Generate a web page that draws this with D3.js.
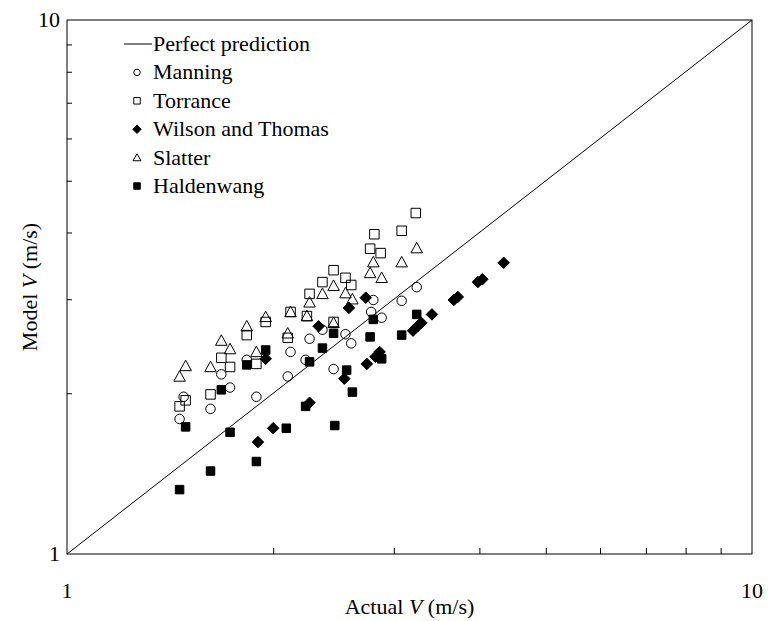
<!DOCTYPE html>
<html>
<head>
<meta charset="utf-8">
<script src="https://cdn.jsdelivr.net/npm/d3@7"></script>
<style>
  html, body { margin: 0; padding: 0; background: #fff; }
  svg { display: block; }
  text { font-family: "Liberation Serif", "Times New Roman", serif; fill: #000; }
</style>
</head>
<body>
<svg id="chart" width="769" height="621"></svg>
<script>
// Actual vs. model velocity (m/s) for each model
const manningActual = [1.46, 1.48, 1.62, 1.68, 1.73, 1.83, 1.89, 2.10, 2.12, 2.23, 2.26, 2.36, 2.45, 2.55, 2.60, 2.80, 2.78, 2.88, 3.08, 3.24];
const manningModel  = [1.79, 1.97, 1.87, 2.17, 2.05, 2.31, 1.97, 2.15, 2.39, 2.31, 2.53, 2.63, 2.22, 2.58, 2.48, 2.99, 2.84, 2.77, 2.98, 3.16];

const torranceActual = [1.46, 1.49, 1.62, 1.68, 1.73, 1.83, 1.89, 1.95, 2.10, 2.12, 2.24, 2.26, 2.36, 2.45, 2.55, 2.60, 2.45, 2.77, 2.81, 2.87, 3.08, 3.23];
const torranceModel  = [1.89, 1.94, 1.99, 2.33, 2.24, 2.57, 2.27, 2.72, 2.54, 2.84, 2.79, 3.07, 3.23, 3.40, 3.29, 3.19, 2.72, 3.73, 3.97, 3.66, 4.03, 4.35];

const wilsonActual = [1.90, 2.00, 1.95, 2.26, 2.33, 2.54, 2.58, 2.73, 2.74, 2.82, 2.86, 3.20, 3.25, 3.29, 3.41, 3.67, 3.72, 3.98, 4.04, 4.34];
const wilsonModel  = [1.62, 1.72, 2.32, 1.92, 2.67, 2.13, 2.89, 3.02, 2.27, 2.34, 2.39, 2.62, 2.67, 2.71, 2.81, 2.99, 3.03, 3.23, 3.27, 3.51];

const slatterActual = [1.46, 1.49, 1.62, 1.68, 1.73, 1.83, 1.89, 1.95, 2.10, 2.12, 2.24, 2.26, 2.36, 2.45, 2.45, 2.55, 2.61, 2.77, 2.80, 2.88, 3.08, 3.24];
const slatterModel  = [2.15, 2.25, 2.24, 2.51, 2.42, 2.67, 2.39, 2.78, 2.59, 2.84, 2.79, 2.96, 3.07, 3.18, 2.71, 3.08, 3.00, 3.36, 3.52, 3.29, 3.52, 3.74];

const haldenActual = [1.46, 1.49, 1.62, 1.68, 1.73, 1.83, 1.89, 1.95, 2.09, 2.23, 2.26, 2.36, 2.45, 2.46, 2.56, 2.61, 2.77, 2.80, 2.88, 3.08, 3.24];
const haldenModel  = [1.32, 1.73, 1.43, 2.03, 1.69, 2.26, 1.49, 2.41, 1.72, 1.89, 2.29, 2.43, 2.59, 1.74, 2.21, 2.01, 2.55, 2.75, 2.32, 2.57, 2.81];

const axisDomain = [1, 10];
const tickLabels = [1, 10];
const minorTicks = [2, 3, 4, 5, 6, 7, 8, 9];

const seriesNames = ["Manning", "Torrance", "Wilson and Thomas", "Slatter", "Haldenwang"];

const FONT = "'Liberation Serif', 'Times New Roman', serif";

const zip = (a, b) => a.map((v, i) => [v, b[i]]);
const series = [
  { name: seriesNames[0], shape: "circle",   filled: false, pts: zip(manningActual, manningModel) },
  { name: seriesNames[1], shape: "square",   filled: false, pts: zip(torranceActual, torranceModel) },
  { name: seriesNames[2], shape: "diamond",  filled: true,  pts: zip(wilsonActual, wilsonModel) },
  { name: seriesNames[3], shape: "triangle", filled: false, pts: zip(slatterActual, slatterModel) },
  { name: seriesNames[4], shape: "square",   filled: true,  pts: zip(haldenActual, haldenModel) }
];

const svg = d3.select("#chart");
const plotLeft = 67, plotRight = 752, plotTop = 20, plotBottom = 554;

const x = d3.scaleLog().domain(axisDomain).range([plotLeft, plotRight]);
const y = d3.scaleLog().domain(axisDomain).range([plotBottom, plotTop]);

// Frame
svg.append("rect")
  .attr("x", plotLeft).attr("y", plotTop)
  .attr("width", plotRight - plotLeft).attr("height", plotBottom - plotTop)
  .attr("fill", "none").attr("stroke", "#000").attr("stroke-width", 1);

// Inward minor ticks on the bottom and left axes
const xAxis = d3.axisBottom(x).tickValues(minorTicks).tickSize(-6).tickFormat("");
const yAxis = d3.axisLeft(y).tickValues(minorTicks).tickSize(-5).tickFormat("");
svg.append("g").attr("transform", `translate(0,${plotBottom})`).call(xAxis)
  .call(g => g.select(".domain").remove())
  .call(g => g.selectAll("line").attr("stroke", "#000"));
svg.append("g").attr("transform", `translate(${plotLeft},0)`).call(yAxis)
  .call(g => g.select(".domain").remove())
  .call(g => g.selectAll("line").attr("stroke", "#000"));

// Tick labels
svg.append("g").selectAll("text").data(tickLabels).join("text")
  .attr("x", d => x(d)).attr("y", plotBottom + 44)
  .attr("font-family", FONT)
  .attr("text-anchor", "middle").attr("font-size", 22).text(d => d);
svg.append("g").selectAll("text").data(tickLabels).join("text")
  .attr("x", plotLeft - 7).attr("y", d => y(d) + 7)
  .attr("font-family", FONT)
  .attr("text-anchor", "end").attr("font-size", 22).text(d => d);

// Axis titles
const xt = svg.append("text").attr("x", (plotLeft + plotRight) / 2).attr("y", 614)
  .attr("font-family", FONT)
  .attr("text-anchor", "middle").attr("font-size", 22);
xt.append("tspan").text("Actual ");
xt.append("tspan").attr("font-style", "italic").text("V");
xt.append("tspan").text(" (m/s)");

const yt = svg.append("text")
  .attr("transform", `translate(37,${(plotTop + plotBottom) / 2}) rotate(-90)`)
  .attr("font-family", FONT)
  .attr("text-anchor", "middle").attr("font-size", 22);
yt.append("tspan").text("Model ");
yt.append("tspan").attr("font-style", "italic").text("V");
yt.append("tspan").text(" (m/s)");

// Perfect prediction line
svg.append("line")
  .attr("x1", x(axisDomain[0])).attr("y1", y(axisDomain[0]))
  .attr("x2", x(axisDomain[1])).attr("y2", y(axisDomain[1]))
  .attr("stroke", "#000").attr("stroke-width", 1);

// Marker shapes
function markerPath(shape, s) {
  if (shape === "circle") {
    return d3.symbol(d3.symbolCircle, Math.PI * s * s / 4)();
  }
  if (shape === "square") {
    const h = s / 2;
    return `M${-h},${-h}H${h}V${h}H${-h}Z`;
  }
  if (shape === "diamond") {
    const h = s / 2 + 1;
    return `M0,${-h}L${h},0L0,${h}L${-h},0Z`;
  }
  if (shape === "triangle") {
    const w = s / 2 + 0.5, hTop = s * 0.55, hBot = s * 0.45;
    return `M0,${-hTop}L${w},${hBot}L${-w},${hBot}Z`;
  }
}

function drawMarkers(g, shape, filled, size) {
  g.attr("d", markerPath(shape, size))
    .attr("fill", filled ? "#000" : "#fff")
    .attr("fill-opacity", filled ? 1 : 0)
    .attr("stroke", "#000")
    .attr("stroke-width", 1);
}

const markerSize = { circle: 9.5, square: 9.5, diamond: 9.5, triangle: 10.5 };

series.forEach(s => {
  svg.append("g").selectAll("path").data(s.pts).join("path")
    .attr("transform", d => `translate(${x(d[0])},${y(d[1])})`)
    .call(drawMarkers, s.shape, s.filled, s.filled && s.shape === "square" ? 8.5 : markerSize[s.shape]);
});

// Legend
const legend = svg.append("g");
const lx = 137, ltx = 153, ly0 = 44, ldy = 28.4;
legend.append("line")
  .attr("x1", 124).attr("x2", 152).attr("y1", ly0).attr("y2", ly0)
  .attr("stroke", "#000").attr("stroke-width", 1);
legend.append("text").attr("x", ltx).attr("y", ly0 + 7)
  .attr("font-family", FONT).attr("font-size", 22).text("Perfect prediction");
series.forEach((s, i) => {
  const yy = ly0 + ldy * (i + 1);
  legend.append("path")
    .attr("transform", `translate(${lx},${yy})`)
    .call(drawMarkers, s.shape, s.filled, s.shape === "triangle" ? 7 : 6.5);
  legend.append("text").attr("x", ltx).attr("y", yy + 7)
    .attr("font-family", FONT).attr("font-size", 22).text(s.name);
});
</script>
</body>
</html>
